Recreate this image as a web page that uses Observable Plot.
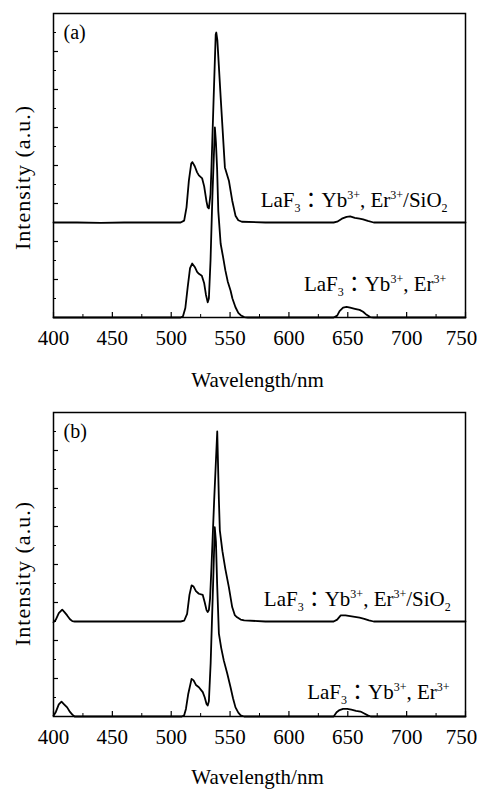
<!DOCTYPE html>
<html>
<head>
<meta charset="utf-8">
<script src="https://cdn.jsdelivr.net/npm/d3@7"></script>
<script src="https://cdn.jsdelivr.net/npm/@observablehq/plot@0.6"></script>
<style>
  html, body { margin: 0; padding: 0; background: #fff; }
  svg { display: block; }
  svg text { font-family: "Liberation Serif", "Noto Sans CJK JP", "Times New Roman", serif !important; }
  g.ytitle text { letter-spacing: 1px; }
</style>
</head>
<body>
<div id="chart"></div>
<script>
// ---- axis ticks and titles ----
const xTicks = [400, 450, 500, 550, 600, 650, 700, 750];
const xMinor = [425, 475, 525, 575, 625, 675, 725];
const yMajor = [1, 2, 3, 4, 5, 6, 7];
const yMinor = [0.5, 1.5, 2.5, 3.5, 4.5, 5.5, 6.5, 7.5];
const xTitle = "Wavelength/nm";
const yTitle = "Intensity (a.u.)";
const panelTags = ["(a)", "(b)"];

// ---- curve labels (markup: {_x} subscript, {^x} superscript) ----
const labelTextSiO2 = "LaF{_3}：Yb{^3+}, Er{^3+}/SiO{_2}";
const labelTextBare = "LaF{_3}：Yb{^3+}, Er{^3+}";
const labelsA = [
  {x: 576, y: 2.91, t: labelTextSiO2},
  {x: 612.7, y: 0.71, t: labelTextBare}
];
const labelsB = [
  {x: 578.7, y: 2.92, t: labelTextSiO2},
  {x: 615.5, y: 0.45, t: labelTextBare}
];

// ---- spectra [wavelength nm, intensity a.u. (offset)] ----
const aSiO2 = [[400,2.5],[420,2.5],[440,2.49],[460,2.5],[480,2.5],[500,2.5],[508,2.5],[511,2.55],[513,2.9],[515,3.6],[517,4.05],[518,4.09],[520,3.98],[522,3.82],[523.5,3.74],[526.3,3.66],[528,3.45],[530,3.05],[531,2.9],[532,2.87],[533.4,3.25],[534.2,3.95],[536,5.73],[537.8,7.45],[538.3,7.5],[539.2,7.3],[542,5.8],[545.6,3.95],[549,3.6],[551.8,3.08],[554.6,2.68],[557,2.56],[560,2.52],[580,2.5],[600,2.5],[620,2.5],[638,2.5],[641,2.52],[645,2.6],[649,2.65],[652,2.66],[656,2.62],[660,2.6],[663,2.58],[667,2.54],[672,2.5],[700,2.5],[725,2.5],[750,2.5]];

const aBare = [[400,0],[450,0],[500,0],[508,0],[510,0.03],[512,0.25],[514,0.8],[516,1.3],[517.8,1.42],[520,1.33],[522,1.2],[523.5,1.15],[526,1.1],[528,0.9],[529.5,0.6],[531,0.4],[532,0.5],[533.4,1.5],[535,3.2],[537.1,5.0],[538,4.6],[539,3.9],[540,2.8],[542,1.94],[544,1.6],[546,1.24],[548,0.95],[550.4,0.71],[552,0.5],[554.6,0.27],[557,0.12],[559,0.06],[562,0.01],[565,0],[600,0],[638,0],[641,0.05],[643,0.17],[646,0.26],[649,0.28],[652,0.26],[656,0.23],[660,0.2],[663,0.15],[666,0.07],[669,0.01],[672,0],[700,0],[750,0]];

const bSiO2 = [[400,2.48],[402,2.55],[404.5,2.72],[407.4,2.81],[409.5,2.74],[411.6,2.66],[414,2.56],[416,2.51],[418,2.5],[440,2.5],[470,2.5],[500,2.5],[508,2.5],[511,2.52],[513.5,2.7],[515.5,3.2],[517.3,3.45],[519,3.42],[521,3.3],[523.5,3.23],[526.8,3.2],[528.5,3.0],[530,2.8],[531,2.75],[532,2.8],[533,3.1],[534.2,3.93],[536.5,5.7],[539.1,7.5],[540.5,5.7],[541.3,4.9],[543.5,4.35],[546,3.88],[549,3.4],[551.8,2.88],[554,2.67],[556,2.61],[559,2.55],[562,2.53],[580,2.5],[600,2.5],[620,2.5],[638,2.5],[641,2.55],[644,2.66],[648,2.66],[652,2.64],[656,2.62],[660,2.6],[664,2.57],[668,2.53],[672,2.5],[700,2.5],[725,2.5],[750,2.5]];

const bBare = [[400,0.02],[402,0.12],[404.5,0.32],[406.8,0.39],[409,0.32],[411.6,0.24],[414,0.12],[416,0.05],[418,0],[450,0],[500,0],[509,0],[511,0.03],[512.5,0.2],[514.5,0.6],[517.3,0.99],[519,0.95],[521,0.83],[523.5,0.77],[526.8,0.64],[528.5,0.5],[530,0.33],[531,0.29],[532,0.4],[533.5,1.4],[535.5,3.4],[537,4.98],[538,4.6],[539,3.5],[540.5,2.18],[542.5,1.8],[544.7,1.47],[547.6,1.13],[550.4,0.77],[552.5,0.48],[554.6,0.24],[557,0.1],[559,0.03],[562,0],[600,0],[638,0],[640.5,0.11],[643,0.17],[646,0.2],[649.5,0.2],[653,0.18],[657,0.15],[660.8,0.13],[664,0.08],[667,0.03],[669.5,0],[700,0],[750,0]];

const FONT = "'Liberation Serif', 'Noto Sans CJK JP', 'Times New Roman', serif";

function richify(svg) {
  d3.select(svg).selectAll("g.lbl text").each(function () {
    const raw = this.textContent;
    const el = d3.select(this);
    el.text(null);
    const re = /\{([_^])([^}]*)\}/g;
    let last = 0, m, cur = 0;
    const add = (s, kind) => {
      if (!s) return;
      const target = kind === "_" ? 5 : kind === "^" ? -8 : 0;
      const ts = el.append("tspan").text(s);
      if (target !== cur) ts.attr("dy", target - cur);
      if (kind) ts.attr("font-size", 12);
      cur = target;
    };
    while ((m = re.exec(raw))) {
      add(raw.slice(last, m.index), null);
      add(m[2], m[1]);
      last = re.lastIndex;
    }
    add(raw.slice(last), null);
  });
}

function panel({height, mt, mb, series, labels, tag, yTitleDy, xTitleDy}) {
  const frameH = height - mt - mb;
  const frameW = 477 - 53 - 12;
  const svg = Plot.plot({
    width: 477,
    height,
    marginLeft: 53,
    marginRight: 12,
    marginTop: mt,
    marginBottom: mb,
    style: {fontFamily: FONT, fontSize: "21px", color: "black", background: "white", overflow: "visible"},
    x: {domain: [400, 750], axis: null},
    y: {domain: [0, 8], axis: null},
    marks: [
      Plot.tickX(xTicks, {x: d => d, insetTop: frameH - 5, stroke: "black", strokeWidth: 1.2}),
      Plot.tickX(xMinor, {x: d => d, insetTop: frameH - 3, stroke: "black", strokeWidth: 1}),
      Plot.tickY(yMajor, {y: d => d, insetRight: frameW - 5, stroke: "black", strokeWidth: 1.2}),
      Plot.tickY(yMinor, {y: d => d, insetRight: frameW - 3, stroke: "black", strokeWidth: 1}),
      Plot.axisX(xTicks.slice(0, -1), {tickSize: 0, tickPadding: 13, label: null, fontSize: 21, fontFamily: FONT}),
      Plot.axisX(xTicks.slice(-1), {tickSize: 0, tickPadding: 13, label: null, fontSize: 21, fontFamily: FONT, dx: -4}),
      ...series.map(s => Plot.line(s, {x: d => d[0], y: d => d[1], stroke: "black", strokeWidth: 1.8, strokeLinejoin: "round"})),
      Plot.text(labels, {x: "x", y: "y", text: "t", textAnchor: "start", lineAnchor: "bottom", fontSize: 21, fontFamily: FONT, className: "lbl"}),
      Plot.text([tag], {frameAnchor: "top-left", dx: 10, dy: 25.5, textAnchor: "start", lineAnchor: "bottom", fontSize: 20, fontFamily: FONT}),
      Plot.text([yTitle], {frameAnchor: "left", rotate: -90, dx: -30.5, dy: yTitleDy, textAnchor: "middle", lineAnchor: "middle", fontSize: 22, fontFamily: FONT, className: "ytitle"}),
      Plot.text([xTitle], {frameAnchor: "bottom", dx: -2, dy: xTitleDy, textAnchor: "middle", lineAnchor: "bottom", fontSize: 21, fontFamily: FONT}),
      Plot.frame({stroke: "black", strokeWidth: 1.5})
    ]
  });
  richify(svg);
  return svg;
}

const svgA = panel({height: 398, mt: 13, mb: 81, series: [aSiO2, aBare], labels: labelsA, tag: panelTags[0], yTitleDy: 12, xTitleDy: 69});
const svgB = panel({height: 391, mt: 14, mb: 73, series: [bSiO2, bBare], labels: labelsB, tag: panelTags[1], yTitleDy: 9, xTitleDy: 67});
document.getElementById("chart").append(svgA, svgB);
</script>
</body>
</html>
